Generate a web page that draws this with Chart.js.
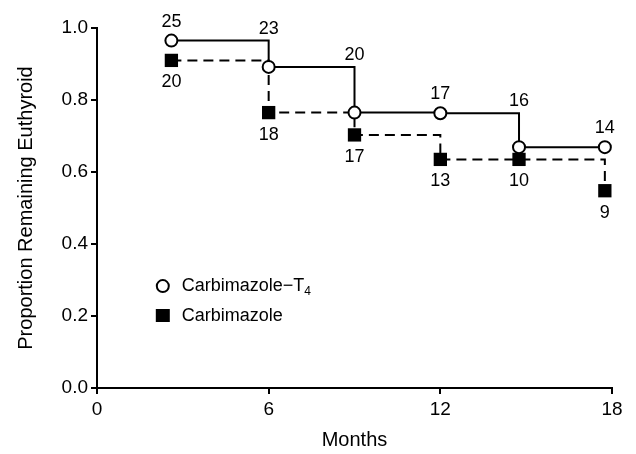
<!DOCTYPE html>
<html>
<head>
<meta charset="utf-8">
<script src="https://cdn.jsdelivr.net/npm/chart.js@4/dist/chart.umd.min.js"></script>
<style>
    html, body { margin: 0; padding: 0; background: #fff; }
    #wrap { width: 636px; height: 454px; }
</style>
</head>
<body>
<div id="wrap"><canvas id="kmChart" width="636" height="454"></canvas></div>
<script>
// Data
const months = [2.6, 6, 9, 12, 14.75, 17.75];
const carbT4 = [0.965, 0.892, 0.765, 0.763, 0.669, 0.669];
const carb = [0.91, 0.765, 0.703, 0.635, 0.635, 0.548];
const carbT4N = [25, 23, 20, 17, 16, 14];
const carbN = [20, 18, 17, 13, 10, 9];
const xTicks = [0, 6, 12, 18];
const yTicks = [0, 0.2, 0.4, 0.6, 0.8, 1.0];

const FONT = '"Liberation Sans", Arial, sans-serif';

function toPoints(xs, ys) {
    return xs.map((x, i) => ({ x: x, y: ys[i] }));
}

// Numbers at risk above circles / below squares, plus the inset legend
const annotate = {
    id: 'annotate',
    afterDatasetsDraw(chart) {
        const ctx = chart.ctx;
        const xs = chart.scales.x;
        const ys = chart.scales.y;
        ctx.save();
        ctx.fillStyle = '#000';
        ctx.font = '18px ' + FONT;
        ctx.textAlign = 'center';

        // above the open circles
        ctx.textBaseline = 'alphabetic';
        months.forEach((m, i) => {
            const px = xs.getPixelForValue(m);
            let anchor = ys.getPixelForValue(carbT4[i]) - 7;
            if (i > 0) anchor = Math.min(anchor, ys.getPixelForValue(carbT4[i - 1]));
            ctx.fillText(String(carbT4N[i]), px, anchor - 7);
        });

        // below the filled squares
        ctx.textBaseline = 'middle';
        months.forEach((m, i) => {
            const px = xs.getPixelForValue(m);
            const py = ys.getPixelForValue(carb[i]);
            ctx.fillText(String(carbN[i]), px, py + 22);
        });

        // legend
        const lx = xs.getPixelForValue(2.3);
        const ly1 = ys.getPixelForValue(0.283);
        const ly2 = ys.getPixelForValue(0.2);
        ctx.lineWidth = 2;
        ctx.strokeStyle = '#000';
        ctx.fillStyle = '#fff';
        ctx.beginPath();
        ctx.arc(lx, ly1, 6, 0, Math.PI * 2);
        ctx.fill();
        ctx.stroke();
        ctx.fillStyle = '#000';
        ctx.fillRect(lx - 7, ly2 - 7, 14, 13);

        ctx.font = '18px ' + FONT;
        ctx.textAlign = 'left';
        ctx.textBaseline = 'middle';
        const tx = lx + 19;
        const label = 'Carbimazole\u2212T';
        ctx.fillText(label, tx, ly1);
        const w = ctx.measureText(label).width;
        ctx.font = '12px ' + FONT;
        ctx.fillText('4', tx + w, ly1 + 6);
        ctx.font = '18px ' + FONT;
        ctx.fillText('Carbimazole', tx, ly2);
        ctx.restore();
    }
};

new Chart(document.getElementById('kmChart'), {
    type: 'line',
    data: {
        datasets: [
            {
                label: 'Carbimazole-T4',
                data: toPoints(months, carbT4),
                stepped: 'before',
                borderColor: '#000',
                borderWidth: 2,
                pointStyle: 'circle',
                pointRadius: 6,
                pointBorderWidth: 2,
                pointBackgroundColor: '#fff',
                pointBorderColor: '#000',
                fill: false,
                order: 0
            },
            {
                label: 'Carbimazole',
                data: toPoints(months, carb),
                stepped: 'before',
                borderColor: '#000',
                borderWidth: 2,
                borderDash: [10, 6],
                pointStyle: 'rect',
                pointRadius: 9.4,
                pointBorderWidth: 0,
                pointBackgroundColor: '#000',
                pointBorderColor: '#000',
                fill: false,
                order: 1
            }
        ]
    },
    options: {
        responsive: false,
        animation: false,
        layout: { padding: { left: 0, top: 28, right: 24, bottom: 0 } },
        plugins: {
            legend: { display: false },
            tooltip: { enabled: false }
        },
        scales: {
            x: {
                type: 'linear',
                min: 0,
                max: 18,
                afterBuildTicks: (s) => { s.ticks = xTicks.map(v => ({ value: v })); },
                ticks: { color: '#000', font: { family: FONT, size: 19 }, padding: 4, maxRotation: 0 },
                grid: { drawOnChartArea: false, drawTicks: true, tickLength: 6, color: '#000', lineWidth: 2 },
                border: { display: true, color: '#000', width: 2 },
                title: { display: true, text: 'Months', color: '#000', font: { family: FONT, size: 20 }, padding: { top: 0, bottom: 2 } },
                afterFit: (s) => { s.height = 66; }
            },
            y: {
                type: 'linear',
                min: 0,
                max: 1,
                afterBuildTicks: (s) => { s.ticks = yTicks.map(v => ({ value: v })); },
                ticks: { color: '#000', font: { family: FONT, size: 19 }, padding: 3, callback: (v) => v.toFixed(1) },
                grid: { drawOnChartArea: false, drawTicks: true, tickLength: 6, color: '#000', lineWidth: 2 },
                border: { display: true, color: '#000', width: 2 },
                title: { display: true, text: 'Proportion Remaining Euthyroid', color: '#000', font: { family: FONT, size: 20 }, padding: { top: 14, bottom: 0 } },
                afterFit: (s) => { s.width = 97; }
            }
        }
    },
    plugins: [annotate]
});
</script>
</body>
</html>
